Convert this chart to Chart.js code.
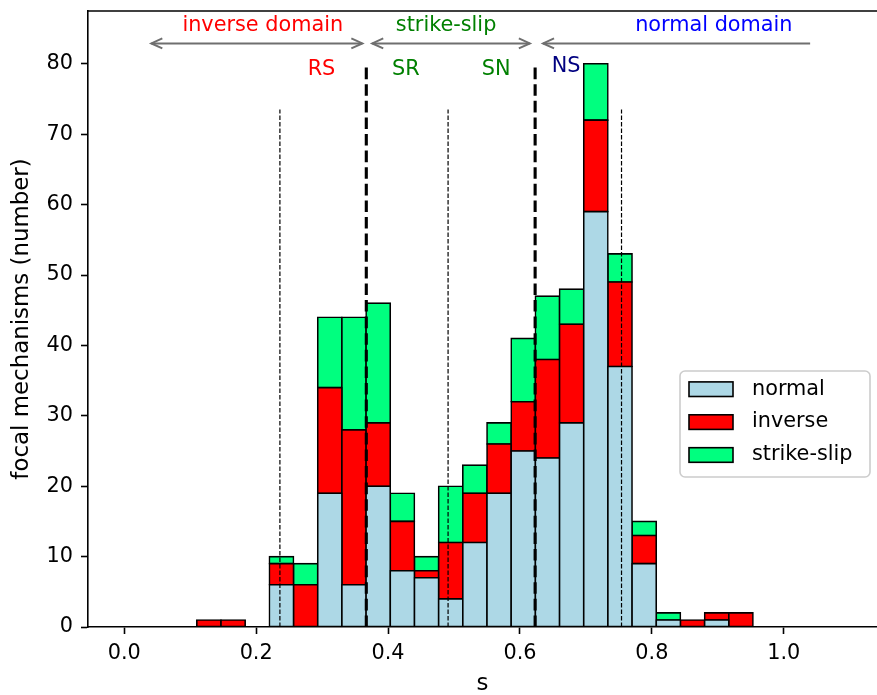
<!DOCTYPE html>
<html>
<head>
<meta charset="utf-8">
<script src="https://cdn.jsdelivr.net/npm/chart.js@4.4.1/dist/chart.umd.min.js"></script>
<style>
  html, body { margin: 0; padding: 0; background: #fff; overflow: hidden; }
</style>
</head>
<body>
<canvas id="histChart" width="877" height="695"></canvas>
<script>
'use strict';

// histogram: 30 bins over 0 .. 1.1
const binWidth = 1.1 / 30;
const normalCounts     = [0, 0, 0, 0, 0, 0, 6, 0, 19, 6, 20, 8, 7, 4, 12, 19, 25, 24, 29, 59, 37, 9, 1, 0, 1, 0, 0, 0, 0, 0];
const inverseCounts    = [0, 0, 0, 1, 1, 0, 3, 6, 15, 22, 9, 7, 1, 8, 7, 7, 7, 14, 14, 13, 12, 4, 0, 1, 1, 2, 0, 0, 0, 0];
const strikeSlipCounts = [0, 0, 0, 0, 0, 0, 1, 3, 10, 16, 17, 4, 2, 8, 4, 3, 9, 9, 5, 8, 4, 2, 1, 0, 0, 0, 0, 0, 0, 0];
const seriesNames = ['normal', 'inverse', 'strike-slip'];

const xTickValues = [0, 0.2, 0.4, 0.6, 0.8, 1.0];
const yTickValues = [0, 10, 20, 30, 40, 50, 60, 70, 80];

// regime limits (thick) and regime centres (thin)
const boundaryLines = [0.367, 0.623];
const boundaryTop = 80;
const centreLines = [0.236, 0.491, 0.754];
const centreTop = 73.5;

const domainNames = ['inverse domain', 'strike-slip', 'normal domain'];
const domainX = [0.21, 0.488, 0.894];
const domainColors = ['#ff0000', '#008000', '#0000ff'];
const regimeNames = ['RS', 'SR', 'SN', 'NS'];
const regimeX = [0.299, 0.427, 0.564, 0.67];
const regimeY = [78.4, 78.4, 78.4, 78.9];
const regimeColors = ['#ff0000', '#008000', '#008000', '#000080'];
// arrows: from, to, head at start, head at end
const arrowFrom = [0.041, 0.376, 0.635];
const arrowTo = [0.361, 0.615, 1.04];
const arrowHeadEnd = [true, true, false];
const arrowY = 82.9;
const domainY = 84.6;

const FONT = 'DejaVu Sans';
const chartCanvas = document.getElementById('histChart');

function toBars(counts) {
  const points = [];
  for (let i = 0; i < counts.length; i++) {
    if (counts[i] > 0) {
      points.push({ x: (i + 0.5) * binWidth, y: counts[i] });
    }
  }
  return points;
}

function barSet(label, counts, color) {
  return {
    label: label,
    data: toBars(counts),
    backgroundColor: color,
    borderColor: '#000',
    borderWidth: 1.6,
    inflateAmount: 0.8,
    borderSkipped: false,
    barPercentage: 1,
    categoryPercentage: 1,
    order: 1,
  };
}

function vLine(xv, top, width, dash, idx) {
  return {
    type: 'line',
    stack: 'vline' + idx,
    data: [{ x: xv, y: 0 }, { x: xv, y: top }],
    borderColor: '#000',
    borderWidth: width,
    borderDash: dash,
    pointRadius: 0,
    fill: false,
    order: 0,
  };
}

const datasets = [
  barSet(seriesNames[0], normalCounts, '#add8e6'),
  barSet(seriesNames[1], inverseCounts, '#ff0000'),
  barSet(seriesNames[2], strikeSlipCounts, '#00ff7f'),
];
boundaryLines.forEach((v, i) => datasets.push(vLine(v, boundaryTop, 3.1, [11.6, 5], i)));
centreLines.forEach((v, i) => datasets.push(vLine(v, centreTop, 1.2, [4.5, 2], i + 10)));

function drawArrowHead(ctx, px, py, dir) {
  ctx.beginPath();
  ctx.moveTo(px + dir * 11, py - 5);
  ctx.lineTo(px, py);
  ctx.lineTo(px + dir * 11, py + 5);
  ctx.stroke();
}

const decorPlugin = {
  id: 'decor',
  afterDraw(chart) {
    const { ctx, chartArea, scales: { x, y } } = chart;
    ctx.save();

    // top spine
    ctx.strokeStyle = '#000';
    ctx.lineWidth = 1.6;
    ctx.beginPath();
    ctx.moveTo(chartArea.left, chartArea.top);
    ctx.lineTo(chartArea.right, chartArea.top);
    ctx.stroke();

    // arrows
    ctx.strokeStyle = '#6f6f6f';
    ctx.lineWidth = 2;
    const ay = y.getPixelForValue(arrowY);
    for (let i = 0; i < arrowFrom.length; i++) {
      const x1 = x.getPixelForValue(arrowFrom[i]);
      const x2 = x.getPixelForValue(arrowTo[i]);
      ctx.beginPath();
      ctx.moveTo(x1, ay);
      ctx.lineTo(x2, ay);
      ctx.stroke();
      drawArrowHead(ctx, x1, ay, 1);
      if (arrowHeadEnd[i]) drawArrowHead(ctx, x2, ay, -1);
    }

    // texts
    ctx.font = '20.8px "' + FONT + '"';
    ctx.textAlign = 'center';
    ctx.textBaseline = 'alphabetic';
    for (let i = 0; i < domainNames.length; i++) {
      ctx.fillStyle = domainColors[i];
      ctx.fillText(domainNames[i], x.getPixelForValue(domainX[i]), y.getPixelForValue(domainY));
    }
    for (let i = 0; i < regimeNames.length; i++) {
      ctx.fillStyle = regimeColors[i];
      ctx.fillText(regimeNames[i], x.getPixelForValue(regimeX[i]), y.getPixelForValue(regimeY[i]));
    }

    // legend
    const lx = 680, ly = 371, lw = 190, lh = 106, r = 5;
    ctx.beginPath();
    ctx.moveTo(lx + r, ly);
    ctx.arcTo(lx + lw, ly, lx + lw, ly + lh, r);
    ctx.arcTo(lx + lw, ly + lh, lx, ly + lh, r);
    ctx.arcTo(lx, ly + lh, lx, ly, r);
    ctx.arcTo(lx, ly, lx + lw, ly, r);
    ctx.closePath();
    ctx.fillStyle = 'rgba(255,255,255,0.8)';
    ctx.fill();
    ctx.strokeStyle = '#cccccc';
    ctx.lineWidth = 1.6;
    ctx.stroke();

    ctx.textAlign = 'left';
    ctx.textBaseline = 'middle';
    for (let i = 0; i < 3; i++) {
      const ds = chart.data.datasets[i];
      const cy = 389.2 + i * 32.9;
      ctx.fillStyle = ds.backgroundColor;
      ctx.fillRect(689, cy - 7.3, 44, 14.6);
      ctx.strokeStyle = '#000';
      ctx.lineWidth = 1.6;
      ctx.strokeRect(689, cy - 7.3, 44, 14.6);
      ctx.fillStyle = '#000';
      ctx.fillText(ds.label, 752, cy);
    }
    ctx.restore();
  },
};

function noScalePadding(scale) {
  scale.paddingTop = 0;
  scale.paddingBottom = 0;
  scale.paddingLeft = 0;
  scale.paddingRight = 0;
}

new Chart(chartCanvas, {
  type: 'bar',
  data: { datasets: datasets },
  options: {
    responsive: false,
    animation: false,
    devicePixelRatio: 1,
    layout: { padding: { top: 11, right: 0, bottom: 0, left: 0 } },
    plugins: {
      legend: { display: false },
      tooltip: { enabled: false },
    },
    scales: {
      x: {
        type: 'linear',
        stacked: true,
        offset: false,
        min: -0.055,
        max: 1.1414,
        grid: { offset: false, drawOnChartArea: false, drawTicks: true, tickLength: 7, tickColor: '#000', tickWidth: 1.6 },
        border: { display: true, color: '#000', width: 1.6 },
        ticks: {
          color: '#000',
          font: { family: FONT, size: 20.8 },
          padding: 7,
          maxRotation: 0,
          autoSkip: false,
          callback: (value) => Number(value).toFixed(1),
        },
        afterBuildTicks: (scale) => { scale.ticks = xTickValues.map((v) => ({ value: v })); },
        afterFit: (scale) => { scale.height = 68; noScalePadding(scale); },
        title: {
          display: true,
          text: 's',
          color: '#000',
          font: { family: FONT, size: 22.9, lineHeight: 1 },
          padding: { top: 0, bottom: 0 },
        },
      },
      y: {
        stacked: true,
        min: 0,
        max: 87.5,
        grid: { offset: false, drawOnChartArea: false, drawTicks: true, tickLength: 7, tickColor: '#000', tickWidth: 1.6 },
        border: { display: true, color: '#000', width: 1.6 },
        ticks: {
          color: '#000',
          font: { family: FONT, size: 20.8 },
          padding: 8,
        },
        afterBuildTicks: (scale) => { scale.ticks = yTickValues.map((v) => ({ value: v })); },
        afterFit: (scale) => { scale.width = 88; noScalePadding(scale); },
        title: {
          display: true,
          text: 'focal mechanisms (number)',
          color: '#000',
          font: { family: FONT, size: 22.9, lineHeight: 1 },
          padding: { top: 11, bottom: 0 },
        },
      },
    },
  },
  plugins: [decorPlugin],
});
</script>
</body>
</html>
